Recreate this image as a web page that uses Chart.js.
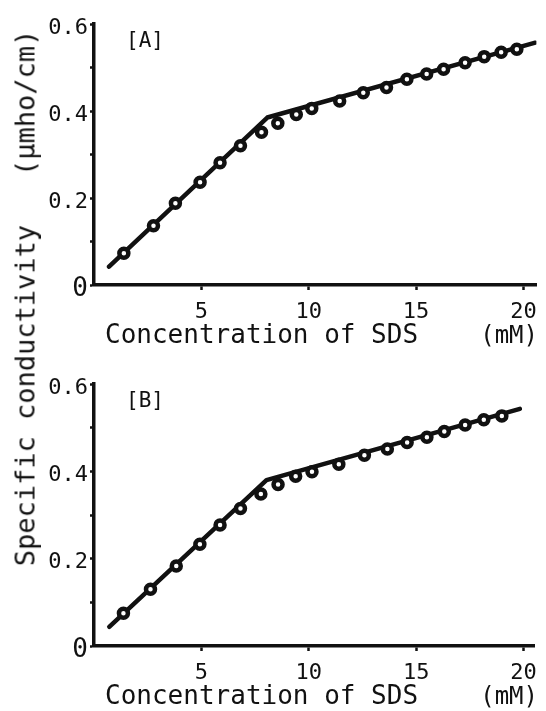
<!DOCTYPE html>
<html>
<head>
<meta charset="utf-8">
<script src="https://cdn.jsdelivr.net/npm/chart.js@4.4.1/dist/chart.umd.min.js"></script>
<style>
  body { margin: 0; background: #fff; }
  #wrap { position: relative; width: 546px; height: 711px; overflow: hidden; }
  canvas { position: absolute; left: 0; }
  #ytitle {
    position: absolute; left: 25px; top: 298px;
    transform: translate(-50%, -50%) rotate(-90deg);
    font: 27px "DejaVu Sans Mono"; line-height: 1; white-space: pre; color: #111;
  }
</style>
</head>
<body>
<div id="wrap">
  <canvas id="chartA" width="546" height="350" style="top:0"></canvas>
  <canvas id="chartB" width="546" height="351" style="top:360px"></canvas>
  <div id="ytitle">Specific conductivity   (μmho/cm)</div>
</div>
<script>
// panel A: measured points (mM, μmho/cm) and the two-segment fit line
const concA = [1.39, 2.77, 3.79, 4.94, 5.87, 6.82, 7.80, 8.56, 9.42, 10.14, 11.44, 12.54, 13.62, 14.57, 15.49, 16.28, 17.28, 18.17, 18.96, 19.69];
const condA = [0.073, 0.136, 0.188, 0.236, 0.281, 0.320, 0.351, 0.372, 0.392, 0.406, 0.423, 0.442, 0.454, 0.473, 0.485, 0.496, 0.511, 0.525, 0.535, 0.542];
const fitXA = [0.70, 8.07, 20.55];
const fitYA = [0.042, 0.385, 0.557];

// panel B
const concB = [1.37, 2.63, 3.83, 4.93, 5.87, 6.82, 7.77, 8.57, 9.39, 10.15, 11.40, 12.59, 13.66, 14.58, 15.50, 16.31, 17.28, 18.15, 18.99];
const condB = [0.075, 0.130, 0.183, 0.233, 0.277, 0.315, 0.348, 0.370, 0.389, 0.399, 0.416, 0.437, 0.451, 0.466, 0.478, 0.491, 0.506, 0.518, 0.527];
const fitXB = [0.71, 8.03, 19.83];
const fitYB = [0.044, 0.380, 0.543];

const xTickLabels = ['5', '10', '15', '20'];
const yTickLabels = ['0', '0.2', '0.4', '0.6'];
const xTitle = 'Concentration of SDS';
const xUnit = '(mM)';

const mono = '"DejaVu Sans Mono", monospace';
const ink = '#111';

// [A] / [B] tag inside the plot, and the x caption with its unit at the far right
const panelText = {
  id: 'panelText',
  afterDraw(chart, args, opts) {
    const { ctx, chartArea } = chart;
    ctx.save();
    ctx.fillStyle = ink;
    ctx.font = '21px ' + mono;
    ctx.textAlign = 'center';
    ctx.textBaseline = 'middle';
    ctx.fillText(opts.tag, chartArea.left + 51, chartArea.top + 18);

    ctx.textBaseline = 'alphabetic';
    ctx.font = '26px ' + mono;
    ctx.textAlign = 'left';
    ctx.fillText(xTitle, 105, chartArea.bottom + 58);
    ctx.font = '24px ' + mono;
    ctx.textAlign = 'right';
    ctx.fillText(xUnit, 538, chartArea.bottom + 58);
    ctx.restore();
  }
};

function makeChart(id, tag, xs, ys, fitX, fitY, xMax, padRight) {
  const pts = xs.map((x, i) => ({ x: x, y: ys[i] }));
  const fit = fitX.map((x, i) => ({ x: x, y: fitY[i] }));
  return new Chart(document.getElementById(id), {
    type: 'scatter',
    data: {
      datasets: [
        {
          data: pts,
          showLine: false,
          pointRadius: 4.5,
          pointBorderWidth: 4.5,
          pointBackgroundColor: '#fff',
          pointBorderColor: ink
        },
        {
          data: fit,
          showLine: true,
          borderColor: ink,
          borderWidth: 4.5,
          borderJoinStyle: 'round',
          borderCapStyle: 'round',
          pointRadius: 0,
          tension: 0
        }
      ]
    },
    options: {
      responsive: false,
      animation: false,
      layout: { padding: { left: 0, right: padRight, top: 24, bottom: 0 } },
      plugins: {
        legend: { display: false },
        tooltip: { enabled: false },
        panelText: { tag: tag }
      },
      scales: {
        x: {
          type: 'linear',
          min: 0,
          max: xMax,
          border: { color: ink, width: 3.5 },
          grid: {
            drawOnChartArea: false,
            tickLength: 5,
            tickWidth: 2.5,
            color: c => (c.tick && c.tick.value === 0) ? 'rgba(0,0,0,0)' : ink
          },
          ticks: {
            stepSize: 5,
            includeBounds: false,
            autoSkip: false,
            maxRotation: 0,
            color: ink,
            padding: 9,
            font: { family: mono, size: 22 },
            callback: v => xTickLabels.includes(String(v)) ? String(v) : ''
          },
          afterFit: s => { s.height = 65; }
        },
        y: {
          min: 0,
          max: 0.6,
          border: { color: ink, width: 3.5 },
          grid: {
            drawOnChartArea: false,
            tickLength: 4,
            tickWidth: 2.5,
            color: ink
          },
          ticks: {
            stepSize: 0.1,
            autoSkip: false,
            color: ink,
            padding: 2,
            labelOffset: 4,
            font: c => ({ family: mono, size: (c.tick && c.tick.value === 0) ? 26 : 22 }),
            callback: v => {
              const s = String(Math.round(v * 10) / 10);
              return yTickLabels.includes(s) ? s : '';
            }
          },
          afterFit: s => { s.width = 94; }
        }
      }
    },
    plugins: [panelText]
  });
}

makeChart('chartA', '[A]', concA, condA, fitXA, fitYA, 20.6, 3);
makeChart('chartB', '[B]', concB, condB, fitXB, fitYB, 20.5, 5);
</script>
</body>
</html>
